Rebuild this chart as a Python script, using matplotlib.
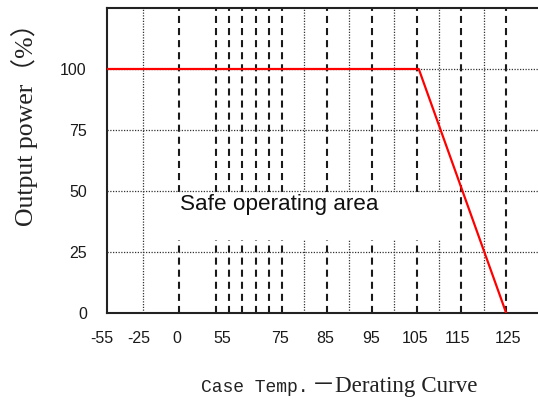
import numpy as np
import matplotlib
matplotlib.use('Agg')
import matplotlib.pyplot as plt
from matplotlib.patches import Rectangle
from matplotlib.transforms import ScaledTranslation

# ---- data ----
curve_temp = [-55, 105.5, 125]
curve_power = [100, 100, 0]
x_ticks = [-55, -25, 0, 55, 75, 85, 95, 105, 115, 125]
x_tick_labels = ['-55', '-25', '0', '55', '75', '85', '95', '105', '115', '125']
y_ticks = [0, 25, 50, 75, 100]
y_tick_labels = ['0', '25', '50', '75', '100']
dashed_temps = [0, 55, 59, 63, 67, 71, 75, 85, 95, 105, 115, 125]
dotted_temps = [-25, 80, 90, 100, 110, 120]
grid_power = [25, 50, 75, 100]

# piecewise (non-uniform) temperature axis: temperature -> axis units
scale_temp = [-55, -25, 0, 55, 75, 140]
scale_pos = [0, 36, 72, 109, 175, 466.2]

# small horizontal nudges of the x tick labels (pixels), as in the source
x_label_nudge_px = [-5, -4, -2, 6, -2, -2, -1, -1, -4, 2]


def fwd(t):
    return np.interp(t, scale_temp, scale_pos)


def inv(p):
    return np.interp(p, scale_pos, scale_temp)


W, H = 538, 401
fig = plt.figure(figsize=(W / 100, H / 100), dpi=100)
ax = fig.add_axes([107 / W, 88 / H, 1 - 107 / W, 305 / H])
ax.set_xscale('function', functions=(fwd, inv))
ax.set_xlim(-55, 132.1)
ax.set_ylim(0, 125)

# vertical reference lines
ax.vlines(dashed_temps, 0, 125, colors='#1a1a1a', linewidth=1.5,
          linestyles=[(0, (3.4, 2.4))], zorder=1)
ax.vlines(dotted_temps, 0, 125, colors='#333333', linewidth=0.9,
          linestyles=[(0, (1, 1.2))], zorder=1)

# white area behind the label
ax.add_patch(Rectangle((-12, 30), 124.5, 19.4, facecolor='white',
                       edgecolor='none', zorder=2))

# horizontal reference lines
ax.hlines(grid_power, -55, 132.1, colors='#333333', linewidth=0.9,
          linestyles=[(0, (1, 1.2))], zorder=3)

# derating curve
ax.plot(curve_temp, curve_power, color='#ff0000', linewidth=1.6, zorder=4,
        solid_capstyle='butt')

ax.text(1.5, 44.3, 'Safe operating area', fontsize=16.2,
        family='Liberation Sans', ha='left', va='center', color='#111111',
        zorder=5)

ax.set_xticks(x_ticks)
ax.set_xticklabels(x_tick_labels)
ax.set_yticks(y_ticks)
ax.set_yticklabels(y_tick_labels)
ax.tick_params(axis='x', length=0, pad=13, labelsize=11.5)
ax.tick_params(axis='y', length=0, pad=14.5, labelsize=11.5)
for lab in ax.get_xticklabels() + ax.get_yticklabels():
    lab.set_family('Liberation Sans')
    lab.set_color('#1a1a1a')
for lab, dx in zip(ax.get_xticklabels(), x_label_nudge_px):
    lab.set_transform(lab.get_transform() +
                      ScaledTranslation(dx / 100, 0, fig.dpi_scale_trans))

for s in ['left', 'top', 'bottom']:
    ax.spines[s].set_linewidth(1.5)
    ax.spines[s].set_color('#222222')
ax.spines['right'].set_visible(False)

# axis titles
fig.text(25 / W, 1 - 226 / H, 'Output power（%）', rotation=90,
         ha='center', va='bottom', fontsize=18.5,
         family=['Liberation Serif', 'Noto Sans CJK SC'], color='#222222')

base_y = 1 - 392 / H
t1 = fig.text(201 / W, base_y, 'Case Temp.', fontsize=13,
              family='Liberation Mono', ha='left', va='baseline',
              color='#222222')
fig.canvas.draw()
bb = t1.get_window_extent(fig.canvas.get_renderer())
fig.text(bb.x1 / (fig.dpi * fig.get_figwidth()) + 3 / W, base_y,
         '－Derating Curve', fontsize=16.6,
         family=['Liberation Serif', 'Noto Sans CJK SC'],
         ha='left', va='baseline', color='#222222')

fig.savefig('out.png', dpi=100)
